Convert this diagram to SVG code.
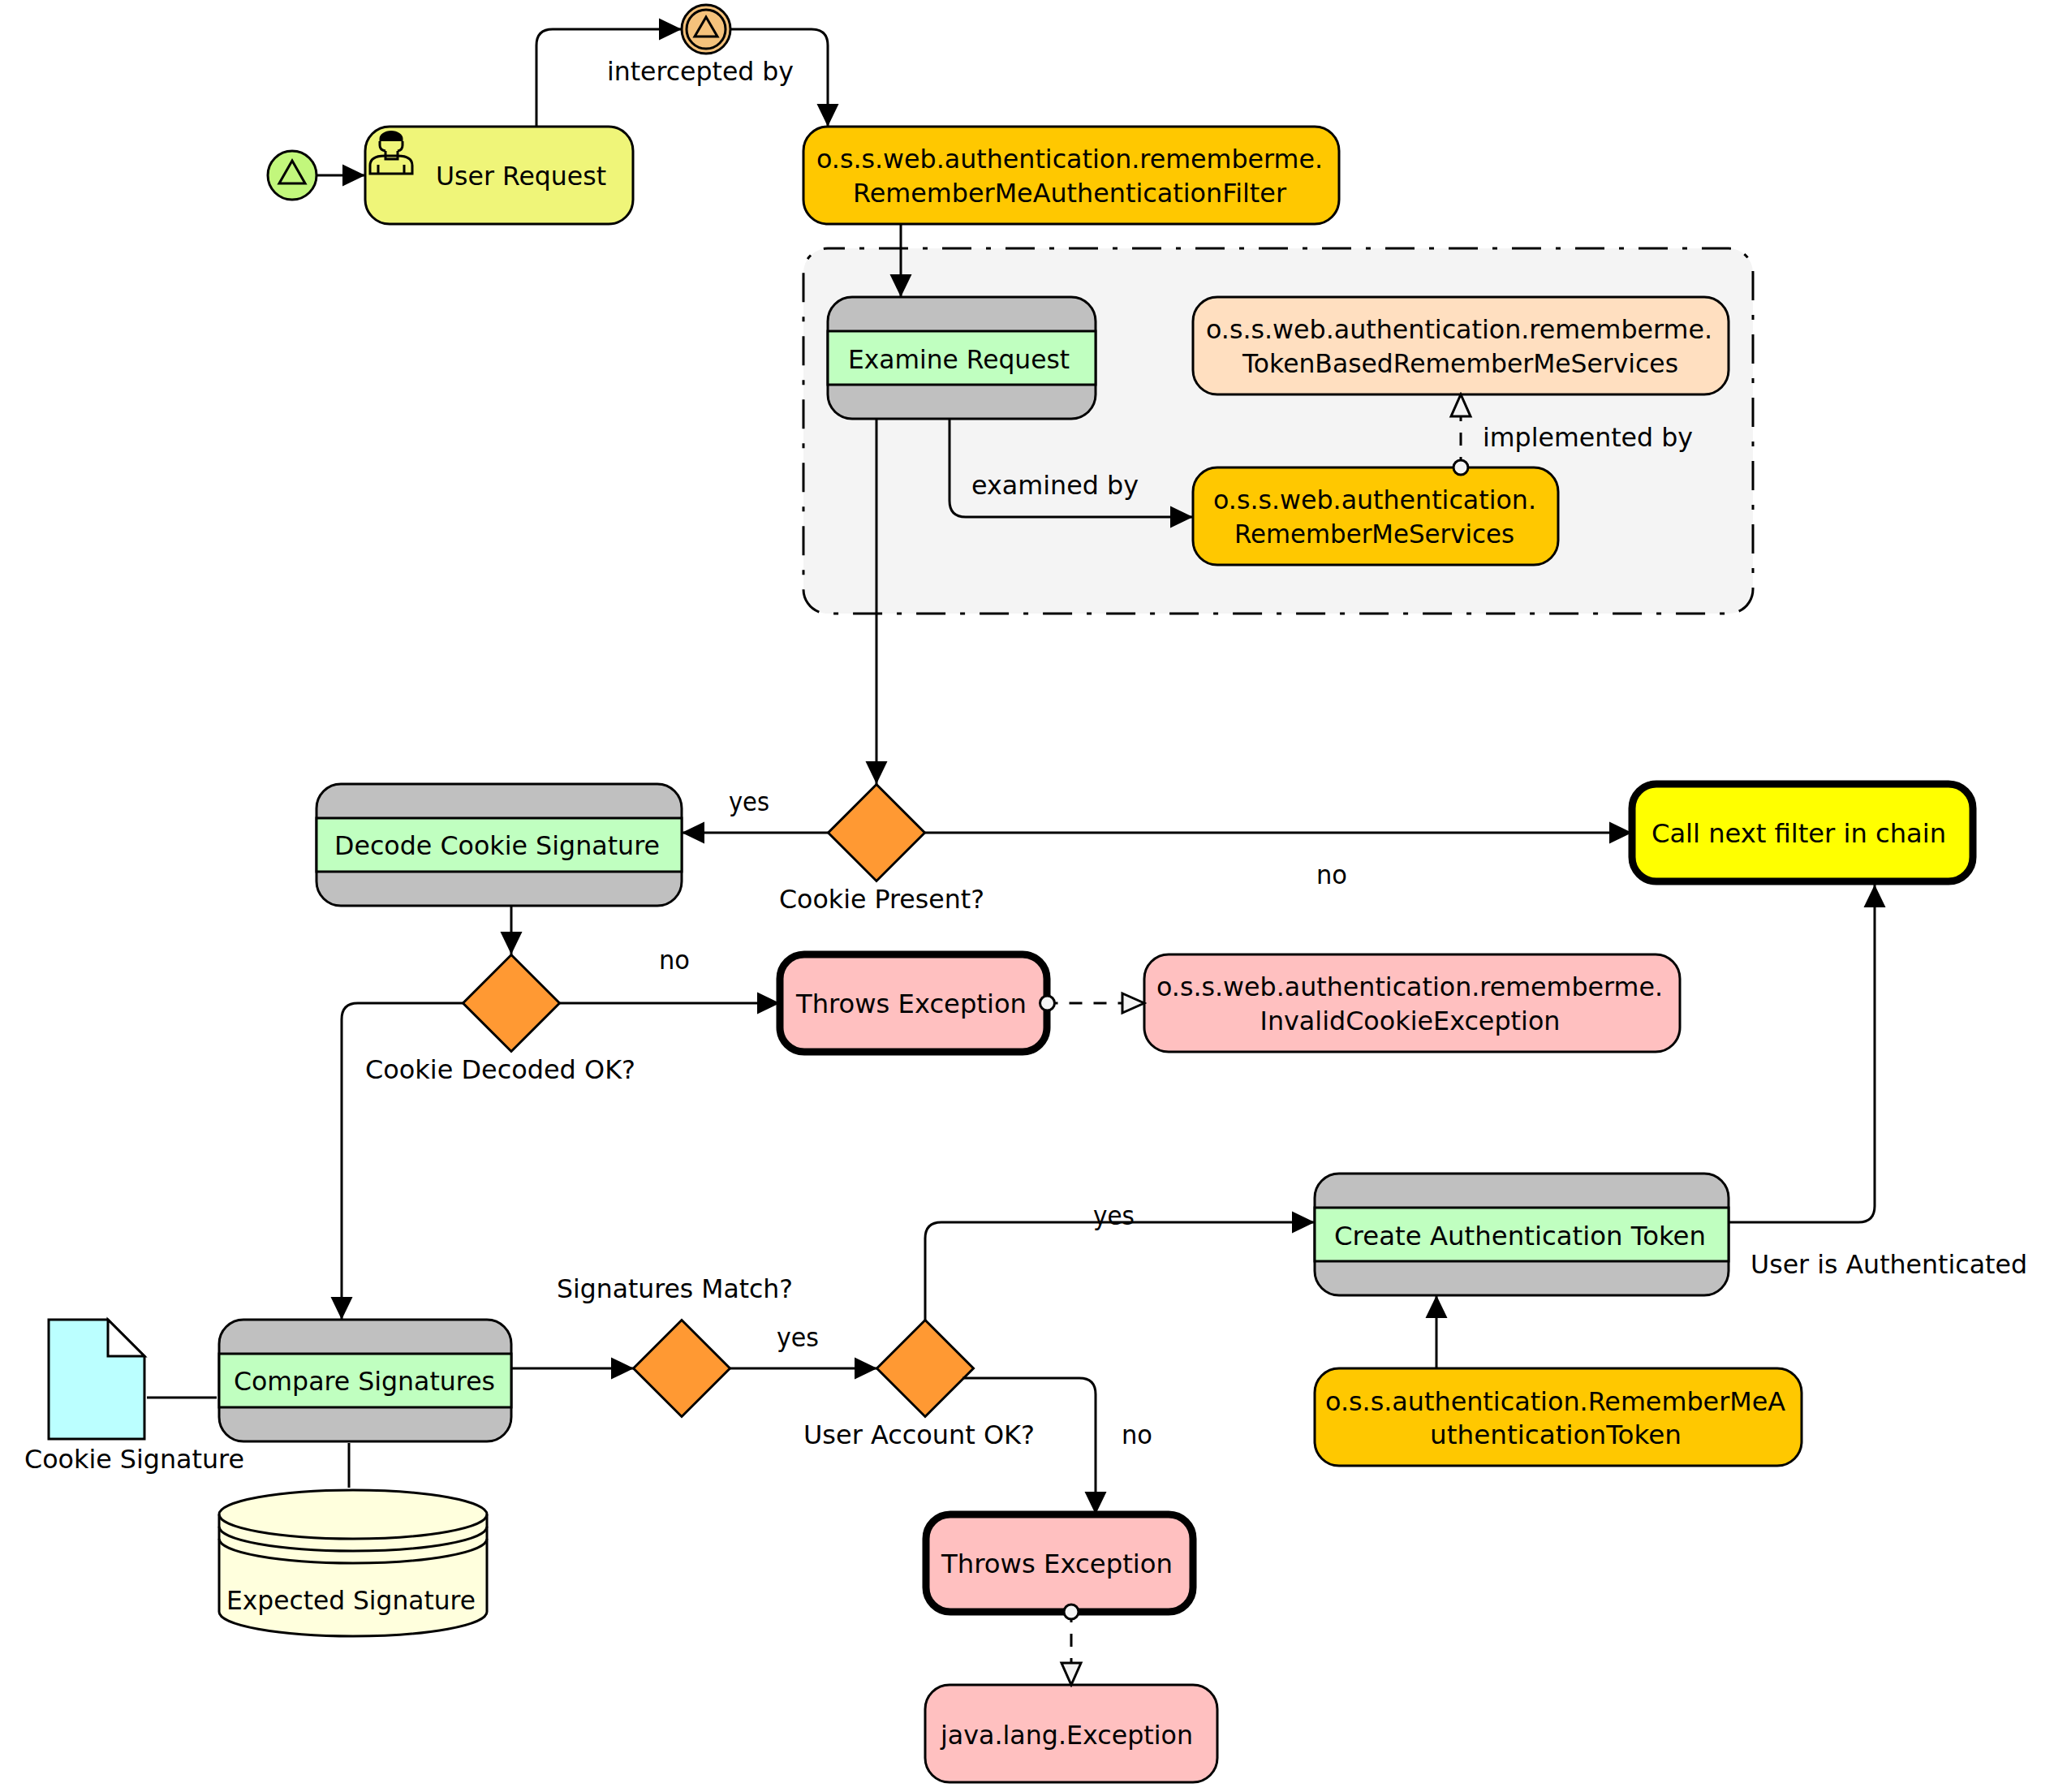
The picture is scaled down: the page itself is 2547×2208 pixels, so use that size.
<svg xmlns="http://www.w3.org/2000/svg" width="2547" height="2208" viewBox="0 0 2547 2208">
<style>
text{font-family:"DejaVu Sans","Liberation Sans",sans-serif;font-size:32px;fill:#000}
.s{stroke:#000;stroke-width:3}
.n{stroke:#000;stroke-width:3;fill:none}
.thick{stroke:#000;stroke-width:9}
.c{fill:none;stroke:#000;stroke-width:3}
.d{fill:none;stroke:#000;stroke-width:3;stroke-dasharray:16 14;stroke-dashoffset:3}
.dia{fill:#ff9933;stroke:#000;stroke-width:3}
.bar{fill:#c0c0c0;stroke:#000;stroke-width:3}
.mid{fill:#c0ffc0;stroke:#000;stroke-width:3}
.am{fill:#ffc800;stroke:#000;stroke-width:3}
.ex{fill:#ffc0c0;stroke:#000;stroke-width:3}
</style>
<defs>
<marker id="arrow" markerUnits="userSpaceOnUse" markerWidth="29" markerHeight="28" viewBox="0 0 29 28" refX="28" refY="14" orient="auto"><path d="M0 0.500L28 14L0 27.500Z" fill="#000"/></marker>
<marker id="hollow" markerUnits="userSpaceOnUse" markerWidth="32" markerHeight="32" viewBox="-2 -2 32 32" refX="0" refY="14" orient="auto"><path d="M0 2L27 14L0 26Z" fill="#f4f4f4" stroke="#000" stroke-width="3"/></marker>
<marker id="dot" markerUnits="userSpaceOnUse" markerWidth="24" markerHeight="24" viewBox="-12 -12 24 24" refX="0" refY="0"><circle r="9" fill="#f4f4f4" stroke="#000" stroke-width="3"/></marker>
</defs>

<g id="group-services"><rect x="990" y="306" width="1170" height="450" rx="30" fill="#f4f4f4" stroke="#000" stroke-width="3" stroke-dasharray="36 18 6 18" stroke-dashoffset="15"/></g>

<g id="start-event"><circle cx="360" cy="216" r="30" fill="#c2f77c" class="s"/><path d="M360 198L376 226H344Z" class="n"/></g>
<g id="intercept-event"><circle cx="870" cy="36" r="30" fill="#f5c27c" class="s"/><circle cx="870" cy="36" r="24" fill="#f5c27c" class="s"/><path d="M870 21L884 45H856Z" class="n"/></g>
<g id="user-request"><rect x="450" y="156" width="330" height="120" rx="30" fill="#eff579" class="s"/>
<path d="M456 214V204Q456 192 474 192H490Q508 192 508 204V214Z" class="n"/><path d="M466 214V203M498 214V203" class="n"/><path d="M475 186V196H490V186M468 174V179Q468 185 475 186M496 174V179Q496 185 490 186" class="n"/><path d="M467.500 174V171A14.500 10 0 0 1 496.500 171V174Z" fill="#000"/>
<text x="537" y="228" textLength="210" lengthAdjust="spacingAndGlyphs">User Request</text></g>
<g id="filter"><rect x="990" y="156" width="660" height="120" rx="30" class="am"/>
<text x="1006" y="207" textLength="624" lengthAdjust="spacingAndGlyphs">o.s.s.web.authentication.rememberme.</text>
<text x="1051" y="248.500" textLength="534" lengthAdjust="spacingAndGlyphs">RememberMeAuthenticationFilter</text></g>
<g id="examine-request"><rect x="1020" y="366" width="330" height="150" rx="30" class="bar"/><rect x="1020" y="408" width="330" height="66" class="mid"/>
<text x="1045" y="453.500" textLength="273" lengthAdjust="spacingAndGlyphs">Examine Request</text></g>
<g id="token-services"><rect x="1470" y="366" width="660" height="120" rx="30" fill="#ffdfc0" class="s"/>
<text x="1486" y="417" textLength="624" lengthAdjust="spacingAndGlyphs">o.s.s.web.authentication.rememberme.</text>
<text x="1531" y="459" textLength="537" lengthAdjust="spacingAndGlyphs">TokenBasedRememberMeServices</text></g>
<g id="remember-services"><rect x="1470" y="576" width="450" height="120" rx="30" class="am"/>
<text x="1495" y="627" textLength="398" lengthAdjust="spacingAndGlyphs">o.s.s.web.authentication.</text>
<text x="1521" y="669" textLength="345" lengthAdjust="spacingAndGlyphs">RememberMeServices</text></g>
<g id="decode-signature"><rect x="390" y="966" width="450" height="150" rx="30" class="bar"/><rect x="390" y="1008" width="450" height="66" class="mid"/>
<text x="412" y="1053" textLength="401" lengthAdjust="spacingAndGlyphs">Decode Cookie Signature</text></g>
<g id="cookie-present"><path d="M1080 966.500L1139.500 1026L1080 1085.500L1020.500 1026Z" class="dia"/><text x="960" y="1119" textLength="253" lengthAdjust="spacingAndGlyphs">Cookie Present?</text></g>
<g id="next-filter"><rect x="2011" y="966" width="420" height="120" rx="30" fill="#ffff00" class="thick"/>
<text x="2035" y="1038" textLength="363" lengthAdjust="spacingAndGlyphs">Call next filter in chain</text></g>
<g id="cookie-decoded"><path d="M630 1176.500L689.500 1236L630 1295.500L570.500 1236Z" class="dia"/><text x="450" y="1329" textLength="333" lengthAdjust="spacingAndGlyphs">Cookie Decoded OK?</text></g>
<g id="throws-1"><rect x="961" y="1176" width="329" height="120" rx="30" fill="#ffc0c0" class="thick"/>
<text x="981" y="1248" textLength="284" lengthAdjust="spacingAndGlyphs">Throws Exception</text></g>
<g id="invalid-cookie"><rect x="1410" y="1176" width="660" height="120" rx="30" class="ex"/>
<text x="1425" y="1227" textLength="624" lengthAdjust="spacingAndGlyphs">o.s.s.web.authentication.rememberme.</text>
<text x="1552.500" y="1269" textLength="370" lengthAdjust="spacingAndGlyphs">InvalidCookieException</text></g>
<g id="create-token"><rect x="1620" y="1446" width="510" height="150" rx="30" class="bar"/><rect x="1620" y="1488" width="510" height="66" class="mid"/>
<text x="1644" y="1534" textLength="458" lengthAdjust="spacingAndGlyphs">Create Authentication Token</text></g>
<g id="compare-signatures"><rect x="270" y="1626" width="360" height="150" rx="30" class="bar"/><rect x="270" y="1668" width="360" height="66" class="mid"/>
<text x="288" y="1713" textLength="322" lengthAdjust="spacingAndGlyphs">Compare Signatures</text></g>
<g id="cookie-signature"><path d="M60 1626H133L178 1671V1773H60Z" fill="#bbffff" class="s"/><path d="M133 1626V1671H178Z" fill="#fff" class="s"/>
<text x="30" y="1809" textLength="271" lengthAdjust="spacingAndGlyphs">Cookie Signature</text></g>
<g id="expected-signature"><path d="M270 1866A165 30 0 0 1 600 1866V1986A165 30 0 0 1 270 1986Z" fill="#ffffdd" class="s"/><path d="M270 1866A165 30 0 0 0 600 1866M270 1881A165 30 0 0 0 600 1881M270 1896A165 30 0 0 0 600 1896" class="n"/>
<text x="279" y="1983" textLength="307" lengthAdjust="spacingAndGlyphs">Expected Signature</text></g>
<g id="signatures-match"><path d="M840 1626.500L899.500 1686L840 1745.500L780.500 1686Z" class="dia"/><text x="686" y="1599" textLength="291" lengthAdjust="spacingAndGlyphs">Signatures Match?</text></g>
<g id="account-ok"><path d="M1140 1626.500L1199.500 1686L1140 1745.500L1080.500 1686Z" class="dia"/><text x="990" y="1779" textLength="285" lengthAdjust="spacingAndGlyphs">User Account OK?</text></g>
<g id="remember-token"><rect x="1620" y="1686" width="600" height="120" rx="30" class="am"/>
<text x="1633" y="1737.500" textLength="567" lengthAdjust="spacingAndGlyphs">o.s.s.authentication.RememberMeA</text>
<text x="1762" y="1779" textLength="310" lengthAdjust="spacingAndGlyphs">uthenticationToken</text></g>
<g id="throws-2"><rect x="1141" y="1866" width="329" height="120" rx="30" fill="#ffc0c0" class="thick"/>
<text x="1160" y="1938" textLength="285" lengthAdjust="spacingAndGlyphs">Throws Exception</text></g>
<g id="java-exception"><rect x="1140" y="2076" width="360" height="120" rx="30" class="ex"/>
<text x="1159" y="2149" textLength="311" lengthAdjust="spacingAndGlyphs">java.lang.Exception</text></g>

<g id="connectors">
<path class="c" d="M390 216H450" marker-end="url(#arrow)"/>
<path class="c" d="M661 156V56Q661 36 681 36H840" marker-end="url(#arrow)"/>
<path class="c" d="M900 36H1000Q1020 36 1020 56V156" marker-end="url(#arrow)"/>
<path class="c" d="M1110 276V366" marker-end="url(#arrow)"/>
<path class="c" d="M1170 516V617Q1170 637 1190 637H1470" marker-end="url(#arrow)"/>
<path class="c" d="M1080 516V966" marker-end="url(#arrow)"/>
<path class="d" d="M1800 576V513" marker-start="url(#dot)" marker-end="url(#hollow)"/>
<path class="c" d="M1021 1026H840" marker-end="url(#arrow)"/>
<path class="c" d="M1139 1026H2011" marker-end="url(#arrow)"/>
<path class="c" d="M630 1116V1176" marker-end="url(#arrow)"/>
<path class="c" d="M689 1236H961" marker-end="url(#arrow)"/>
<path class="d" d="M1290.500 1236H1383" marker-start="url(#dot)" marker-end="url(#hollow)"/>
<path class="c" d="M571 1236H441Q421 1236 421 1256V1626" marker-end="url(#arrow)"/>
<path class="c" d="M630 1686H781" marker-end="url(#arrow)"/>
<path class="c" d="M899 1686H1081" marker-end="url(#arrow)"/>
<path class="c" d="M1140 1627V1526Q1140 1506 1160 1506H1620" marker-end="url(#arrow)"/>
<path class="c" d="M1186 1698H1330Q1350 1698 1350 1718V1866" marker-end="url(#arrow)"/>
<path class="c" d="M2130 1506H2290Q2310 1506 2310 1486V1090" marker-end="url(#arrow)"/>
<path class="c" d="M1770 1686V1596" marker-end="url(#arrow)"/>
<path class="d" d="M1320 1986V2049" marker-start="url(#dot)" marker-end="url(#hollow)"/>
<path class="c" d="M181 1722H267"/>
<path class="c" d="M430 1778V1833"/>
</g>
<g id="connector-labels">
<text x="748" y="99" textLength="230" lengthAdjust="spacingAndGlyphs">intercepted by</text>
<text x="1197" y="608.500" textLength="206" lengthAdjust="spacingAndGlyphs">examined by</text>
<text x="1827" y="549.500" textLength="259" lengthAdjust="spacingAndGlyphs">implemented by</text>
<text x="898" y="999" textLength="50" lengthAdjust="spacingAndGlyphs">yes</text>
<text x="1622" y="1089" textLength="38" lengthAdjust="spacingAndGlyphs">no</text>
<text x="812" y="1194" textLength="38" lengthAdjust="spacingAndGlyphs">no</text>
<text x="1347" y="1509" textLength="51" lengthAdjust="spacingAndGlyphs">yes</text>
<text x="957" y="1659" textLength="52" lengthAdjust="spacingAndGlyphs">yes</text>
<text x="1382" y="1779" textLength="38" lengthAdjust="spacingAndGlyphs">no</text>
<text x="2157" y="1569" textLength="341" lengthAdjust="spacingAndGlyphs">User is Authenticated</text>
</g>
</svg>
